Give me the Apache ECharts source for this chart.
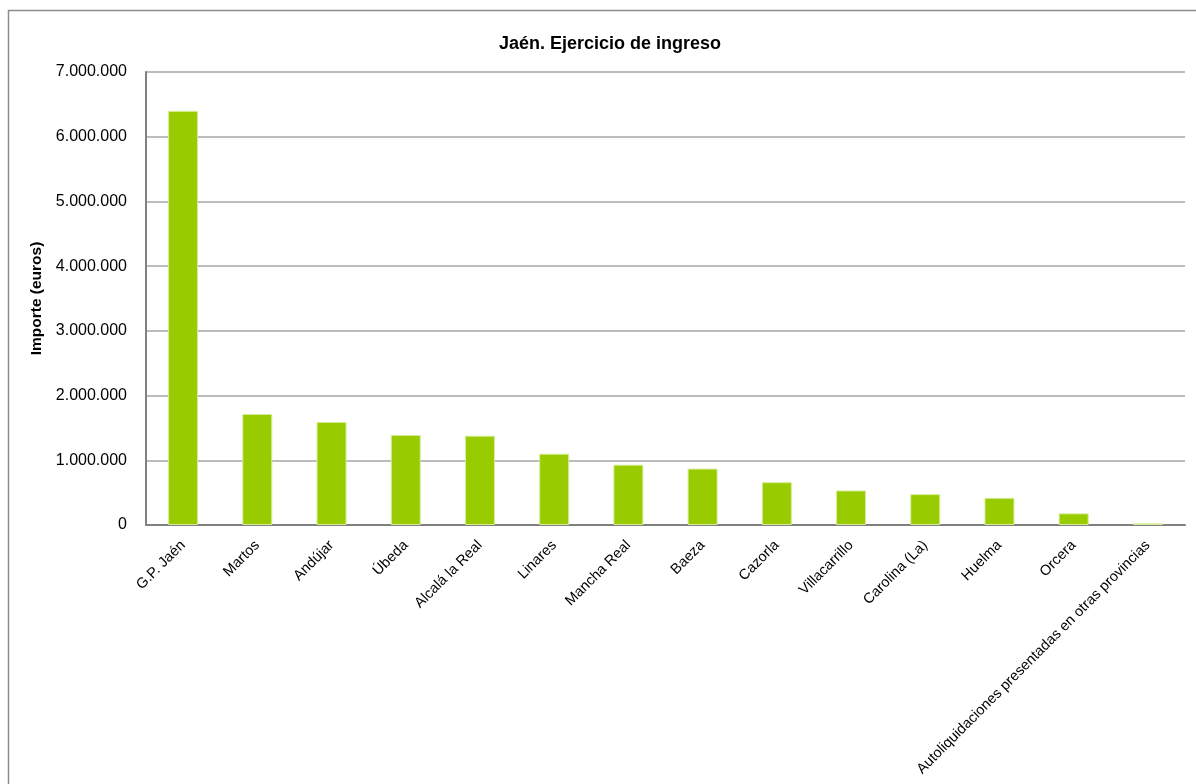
<!DOCTYPE html>
<html><head><meta charset="utf-8">
<script src="https://cdn.jsdelivr.net/npm/echarts@6/dist/echarts.min.js"></script>
<style>html,body{margin:0;padding:0;background:#fff}#c{width:1196px;height:784px}</style>
</head><body><div id="c"></div>
<script>
const titleText = 'Jaén. Ejercicio de ingreso';
const yAxisName = 'Importe (euros)';
const categories = ['G.P. Jaén','Martos','Andújar','Úbeda','Alcalá la Real','Linares','Mancha Real','Baeza','Cazorla','Villacarrillo','Carolina (La)','Huelma','Orcera','Autoliquidaciones presentadas en otras provincias'];
const values = [6400000,1716000,1592000,1391000,1380000,1102000,932000,872000,662000,534000,477000,420000,180000,25000];
const yMin = 0, yMax = 7000000, yStep = 1000000;

const fmt = v => String(Math.round(v)).replace(/\B(?=(\d{3})+(?!\d))/g, '.');
const font = "'Liberation Sans',Arial,sans-serif";

const chart = echarts.init(document.getElementById('c'), null, {renderer:'canvas'});
chart.setOption({
  animation:false,
  backgroundColor:'#fff',
  graphic:[{type:'rect',shape:{x:8.5,y:10.5,width:1200,height:800},style:{fill:'none',stroke:'#8c8c8c',lineWidth:1.5},silent:true,z:-1}],
  title:{text:titleText,left:605,top:30,textAlign:'center',textStyle:{fontFamily:font,fontWeight:'bold',fontSize:18,color:'#000'}},
  grid:{left:146,right:11,top:72,bottom:259,containLabel:false},
  xAxis:{type:'category',data:categories,
    axisLine:{lineStyle:{color:'#808080',width:2}},axisTick:{show:false},
    axisLabel:{rotate:45,interval:0,fontFamily:font,fontSize:14.5,color:'#000',margin:18}},
  yAxis:{type:'value',min:yMin,max:yMax,interval:yStep,
    name:yAxisName,nameLocation:'middle',nameGap:91,
    nameTextStyle:{fontFamily:font,fontWeight:'bold',fontSize:15.5,color:'#000'},
    axisLine:{show:true,lineStyle:{color:'#808080',width:2}},
    axisTick:{show:false},
    splitLine:{lineStyle:{color:'#a6a6a6',width:1.5}},
    axisLabel:{formatter:fmt,fontFamily:font,fontSize:16,color:'#000',margin:19}},
  series:[{type:'bar',data:values,barWidth:30,
    itemStyle:{color:'#99cc00',borderColor:'#d6ee99',borderWidth:1}}]
});
</script></body></html>
